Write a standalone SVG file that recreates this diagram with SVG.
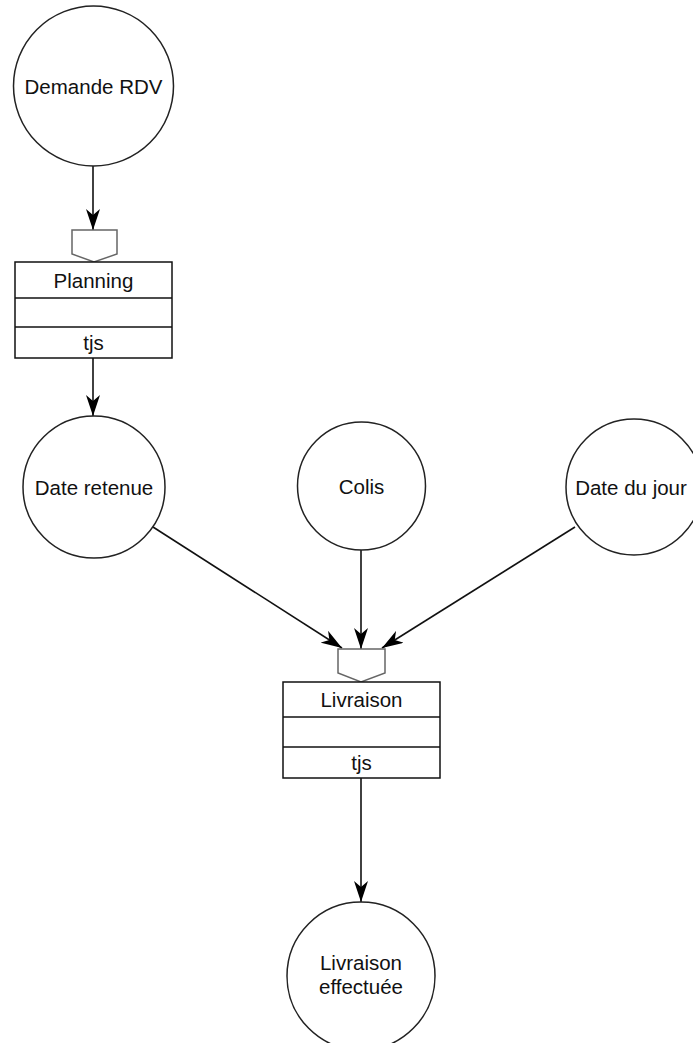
<svg xmlns="http://www.w3.org/2000/svg" width="693" height="1043" viewBox="0 0 693 1043">
<style>
.c{fill:#fff;stroke:#222;stroke-width:1.5}
.b{fill:#fff;stroke:#111;stroke-width:1.5}
.p{fill:#fff;stroke:#666;stroke-width:1.5}
.t{font-family:"Liberation Sans",Arial,sans-serif;font-size:20.5px;fill:#111;text-anchor:middle;dominant-baseline:central}
.e{fill:none;stroke:#111;stroke-width:1.6}
</style>
<defs>
<marker id="ah" markerUnits="userSpaceOnUse" markerWidth="22" markerHeight="14" refX="21" refY="7" orient="auto">
<path d="M0,0 L21,7 L0,14 L6,7 z" fill="#000"/>
</marker>
</defs>
<rect width="693" height="1043" fill="#fff"/>
<g id="connectors">
<line class="e" x1="93" y1="166" x2="93" y2="230" marker-end="url(#ah)"/>
<line class="e" x1="93" y1="358" x2="93" y2="416" marker-end="url(#ah)"/>
<line class="e" x1="153" y1="527" x2="342" y2="648" marker-end="url(#ah)"/>
<line class="e" x1="361" y1="549" x2="361" y2="649" marker-end="url(#ah)"/>
<line class="e" x1="575" y1="527" x2="382" y2="648" marker-end="url(#ah)"/>
<line class="e" x1="361" y1="778" x2="361" y2="902" marker-end="url(#ah)"/>
</g>
<g id="demande-rdv">
<circle class="c" cx="93.5" cy="86" r="80"/>
<text class="t" x="93.5" y="86">Demande RDV</text>
</g>
<g id="planning">
<polygon class="p" points="72,230 117,230 117,254 94,262 72,254"/>
<rect class="b" x="15" y="262" width="157" height="96"/>
<line class="b" x1="15" y1="298" x2="172" y2="298"/>
<line class="b" x1="15" y1="327" x2="172" y2="327"/>
<text class="t" x="93.5" y="280">Planning</text>
<text class="t" x="93.5" y="342">tjs</text>
</g>
<g id="date-retenue">
<circle class="c" cx="94" cy="487" r="71"/>
<text class="t" x="94" y="487">Date retenue</text>
</g>
<g id="colis">
<circle class="c" cx="361.5" cy="486" r="64"/>
<text class="t" x="361.5" y="486">Colis</text>
</g>
<g id="date-du-jour">
<circle class="c" cx="634" cy="487" r="68"/>
<text class="t" x="631" y="487">Date du jour</text>
</g>
<g id="livraison">
<polygon class="p" points="338,649 385,649 385,673 361,682 338,673"/>
<rect class="b" x="283" y="682" width="157" height="96"/>
<line class="b" x1="283" y1="717" x2="440" y2="717"/>
<line class="b" x1="283" y1="747" x2="440" y2="747"/>
<text class="t" x="361.5" y="699">Livraison</text>
<text class="t" x="361.5" y="762">tjs</text>
</g>
<g id="livraison-effectuee">
<circle class="c" cx="361" cy="976" r="74"/>
<text class="t" x="361" y="962">Livraison</text>
<text class="t" x="361" y="986">effectuée</text>
</g>
</svg>
